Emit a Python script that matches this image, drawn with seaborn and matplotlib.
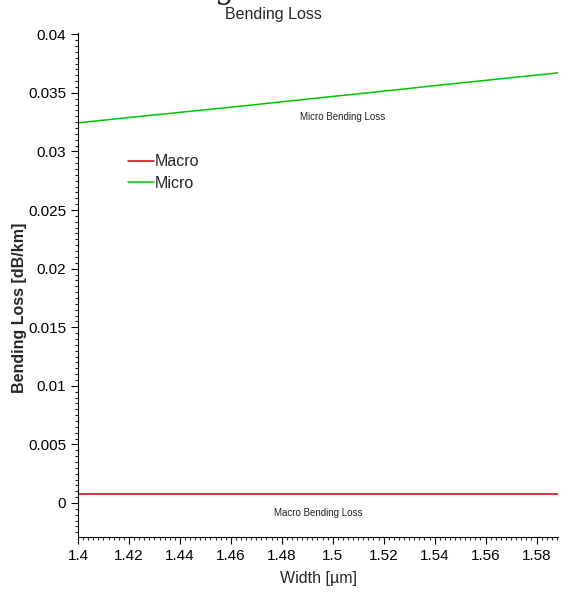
import matplotlib
matplotlib.use("Agg")
import matplotlib.pyplot as plt
from matplotlib.ticker import MultipleLocator
import seaborn as sns
import pandas as pd

width_um = [1.40, 1.41, 1.42, 1.43, 1.44, 1.45, 1.46, 1.47, 1.48, 1.49,
            1.50, 1.51, 1.52, 1.53, 1.54, 1.55, 1.56, 1.57, 1.58, 1.59]
micro_loss = [0.03245, 0.03267, 0.03290, 0.03312, 0.03334, 0.03356, 0.03378, 0.03401, 0.03424, 0.03447,
              0.03470, 0.03492, 0.03515, 0.03538, 0.03562, 0.03585, 0.03607, 0.03630, 0.03652, 0.03675]
macro_loss = [0.00077] * len(width_um)

series = ["Macro", "Micro"]
colors = {"Macro": "#cc0000", "Micro": "#00c800"}

df = pd.DataFrame({
    "Width": width_um * 2,
    "Loss": macro_loss + micro_loss,
    "Series": ["Macro"] * len(width_um) + ["Micro"] * len(width_um),
})

sns.set_style("ticks")
plt.rcParams['font.family'] = ['Liberation Sans', 'DejaVu Sans']

fig = plt.figure(figsize=(5.61, 5.92), dpi=100)
ax = fig.add_axes([0.139, 0.093, 0.856, 0.851])

sns.lineplot(data=df, x="Width", y="Loss", hue="Series", hue_order=series,
             palette=colors, linewidth=1.1, ax=ax)

ax.set_xlim(1.4, 1.5885)
ax.set_ylim(-0.0029, 0.0401)
ax.xaxis.set_major_locator(MultipleLocator(0.02))
ax.xaxis.set_minor_locator(MultipleLocator(0.002))
ax.yaxis.set_major_locator(MultipleLocator(0.005))
ax.yaxis.set_minor_locator(MultipleLocator(0.0005))
ax.xaxis.set_major_formatter(plt.FuncFormatter(lambda v, p: f"{v:g}"))
ax.yaxis.set_major_formatter(plt.FuncFormatter(lambda v, p: f"{v:g}"))
ax.tick_params(which="major", length=5, width=0.8, labelsize=11, colors="black")
ax.tick_params(which="minor", length=2.5, width=0.8)
sns.despine(ax=ax)
for s in ["left", "bottom"]:
    ax.spines[s].set_linewidth(0.8)
    ax.spines[s].set_color("black")

ax.set_xlabel("Width [µm]", fontsize=11.5, labelpad=6)
ax.set_ylabel("Bending Loss [dB/km]", fontsize=11.5, fontweight="bold")
ax.yaxis.set_label_coords(-0.106, 0.455)

ax.legend(loc="upper left", bbox_to_anchor=(0.0875, 0.775), frameon=False,
          fontsize=11.5, handlelength=1.6, handletextpad=0.1, labelspacing=0.38,
          borderpad=0)

ax.text(0.552, 0.833, "Micro Bending Loss", transform=ax.transAxes,
        fontsize=7, color="#222222", ha="center", va="center")
ax.text(0.5, 0.048, "Macro Bending Loss", transform=ax.transAxes,
        fontsize=7, color="#222222", ha="center", va="center")

fig.text(0.487, 0.975, "Bending Loss", fontsize=11.5, ha="center", va="center")
fig.text(0.40, 0.992, "g", fontsize=22, family="DejaVu Serif", ha="center", va="bottom")

fig.savefig("out.png", dpi=100)
